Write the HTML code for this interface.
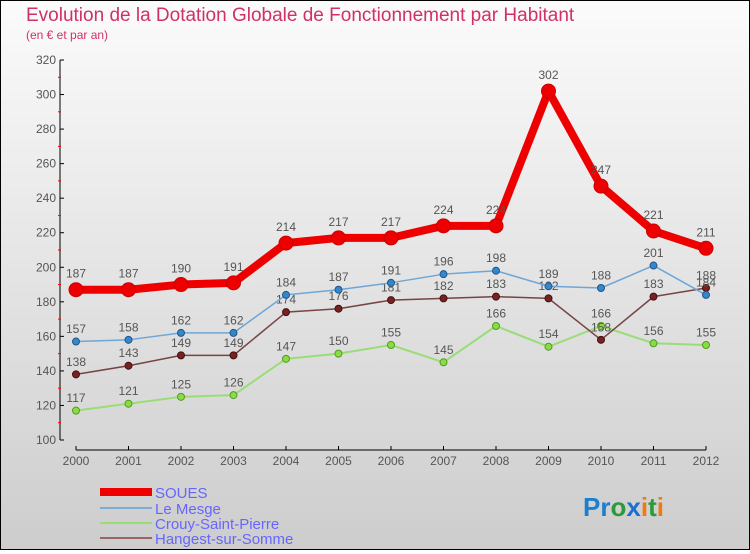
<!DOCTYPE html>
<html><head><meta charset="utf-8"><style>
body{margin:0;width:750px;height:550px;overflow:hidden;font-family:"Liberation Sans",sans-serif}
#wrap{position:relative;width:748px;height:548px;border:1px solid #000;background:linear-gradient(#fbfbfb,#cdcdcd)}
</style></head><body>
<div id="wrap">
<svg id="chart" width="748" height="548" viewBox="1 1 748 548">
<text x="26" y="21" font-size="19" fill="#d0306a">Evolution de la Dotation Globale de Fonctionnement par Habitant</text>
<text x="26" y="39" font-size="12" fill="#d0306a">(en € et par an)</text>
<g id="axes"></g><g id="series"></g>
<g>
<rect x="100" y="488" width="52" height="8" fill="#e00"/>
<text x="155" y="498" font-size="15" fill="#66f">SOUES</text>
<rect x="100" y="507" width="52" height="2" fill="#7aaed6"/>
<text x="155" y="514" font-size="15" fill="#66f">Le Mesge</text>
<rect x="100" y="522" width="52" height="2" fill="#99dd77"/>
<text x="155" y="529" font-size="15" fill="#66f">Crouy-Saint-Pierre</text>
<rect x="100" y="537" width="52" height="2" fill="#996666"/>
<text x="155" y="544" font-size="15" fill="#66f">Hangest-sur-Somme</text>
</g>
<text x="583" y="516" font-size="26" font-weight="bold"><tspan fill="#1a7fd0">Pr</tspan><tspan fill="#2a9a3a">o</tspan><tspan fill="#1a6fd0">x</tspan><tspan fill="#f07a10">i</tspan><tspan fill="#2a9a3a">t</tspan><tspan fill="#f07a10">i</tspan></text>
</svg></div>
<script>
const years=[2000,2001,2002,2003,2004,2005,2006,2007,2008,2009,2010,2011,2012];
const soues=[187,187,190,191,214,217,217,224,224,302,247,221,211];
const leMesge=[157,158,162,162,184,187,191,196,198,189,188,201,184];
const crouy=[117,121,125,126,147,150,155,145,166,154,166,156,155];
const hangest=[138,143,149,149,174,176,181,182,183,182,158,183,188];
const yTicks=[100,120,140,160,180,200,220,240,260,280,300,320];
const NS="http://www.w3.org/2000/svg";
const xs=i=>76+i*52.5, ys=v=>440-(v-100)*380/220;
function mk(t,a,p){const e=document.createElementNS(NS,t);for(const k in a)e.setAttribute(k,a[k]);p.appendChild(e);return e;}
const ax=document.getElementById('axes');
let l=mk('line',{x1:60,y1:60,x2:60,y2:440,stroke:'#000'},ax);


l=mk('line',{x1:76,y1:450,x2:706,y2:450,stroke:'#000'},ax);


yTicks.forEach((v,i)=>{
 mk('line',{x1:60,y1:ys(v),x2:64,y2:ys(v),stroke:'#000'},ax);
 if(i<yTicks.length-1)mk('line',{x1:58,y1:ys(v+10),x2:61,y2:ys(v+10),stroke:'#f00'},ax);
 const t=mk('text',{x:56,y:ys(v)+4,'font-size':12,fill:'#555','text-anchor':'end'},ax);
 t.textContent=v;
 
 
});
years.forEach((y,i)=>{
 mk('line',{x1:xs(i),y1:446,x2:xs(i),y2:450,stroke:'#000'},ax);
 const t=mk('text',{x:xs(i),y:465,'font-size':12,fill:'#555','text-anchor':'middle'},ax);
 t.textContent=y;
 
 
});
const sg=document.getElementById('series');
function draw(d,name,color,w,r,fill,stroke){
 const g=mk('g',{},sg);
 
 
 const p=mk('polyline',{points:d.map((v,i)=>xs(i)+','+ys(v)).join(' '),fill:'none',stroke:color,'stroke-width':w,'stroke-linejoin':'round'},g);
 
 
 d.forEach((v,i)=>{
  const c=mk('circle',{cx:xs(i),cy:ys(v),r:r,fill:fill,stroke:stroke,'stroke-width':1},g);
  
  
  const t=mk('text',{x:xs(i),y:ys(v)-r-5,'font-size':12,fill:'#555','text-anchor':'middle'},g);
  t.textContent=v;
  
  
 });
}
draw(crouy,'crouy','#99dd77',2,3.5,'#88dd44','#559922');
draw(hangest,'hangest','#774444',1.5,3.5,'#772222','#441111');
draw(leMesge,'le-mesge','#6fa6d6',1.5,3.5,'#3388cc','#225588');
draw(soues,'soues','#ee0000',8,7,'#ee0000','#cc0000');
</script>
</body></html>
